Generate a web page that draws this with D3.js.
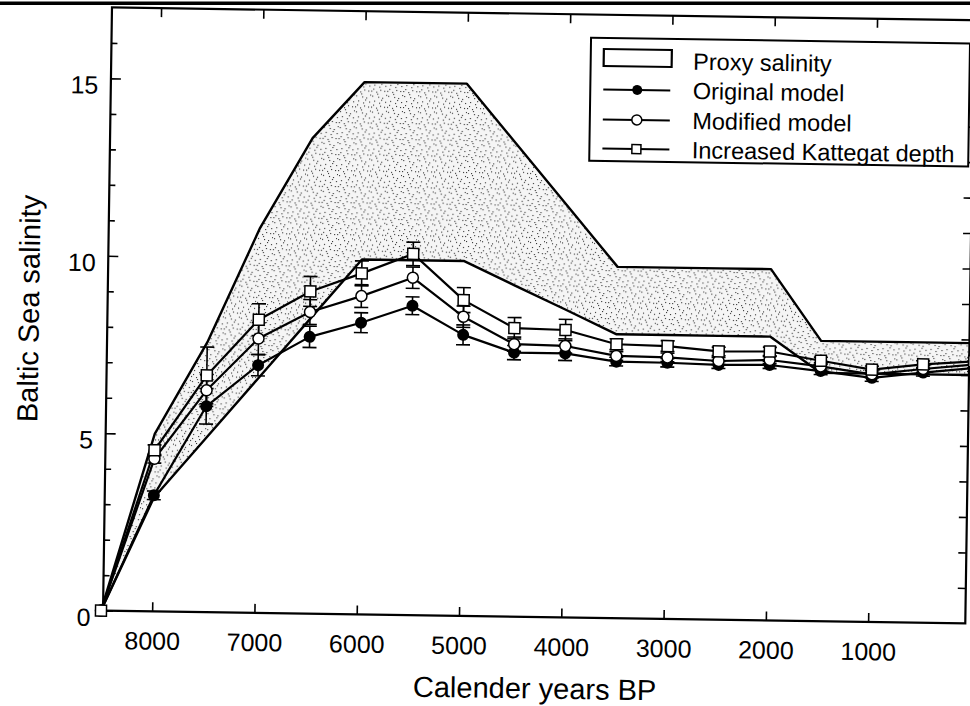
<!DOCTYPE html>
<html>
<head>
<meta charset="utf-8">
<script src="https://cdn.jsdelivr.net/npm/d3@7"></script>
<style>
  body { margin: 0; background: #fff; }
  svg { display: block; }
  text { font-family: "Liberation Sans", Arial, Helvetica, sans-serif; fill: #000; }
</style>
</head>
<body>
<svg id="chart" width="970" height="706"></svg>
<script>
// Simulated and proxy Baltic Sea salinity, years before present
const years = [8500, 8000, 7500, 7000, 6500, 6000, 5500, 5000, 4500, 4000, 3500, 3000, 2500, 2000, 1500, 1000, 500, 0];

// Proxy salinity envelope (upper and lower bound)
const proxyUpper = [0, 5.0, 7.6, 10.85, 13.4, 15.0, 15.0, 15.0, 13.3, 11.6, 9.9, 9.9, 9.9, 9.9, 7.9, 7.9, 7.9, 7.9];
const proxyLower = [0, 3.2, 4.9, 6.6, 8.3, 10.0, 10.0, 10.0, 9.33, 8.67, 8.0, 8.0, 8.0, 8.0, 7.0, 7.0, 7.0, 7.0];

// Model runs with error bar half-widths
const originalModel = [0, 3.27, 5.8, 6.98, 7.8, 8.22, 8.72, 7.92, 7.44, 7.44, 7.23, 7.22, 7.18, 7.2, 7.05, 6.88, 7.05, 7.2];
const originalErr   = [0, 0.12, 0.5, 0.3, 0.3, 0.28, 0.25, 0.28, 0.2, 0.2, 0.12, 0.12, 0.1, 0.1, 0.1, 0.1, 0.1, 0.1];
const modifiedModel = [0, 4.3, 6.25, 7.73, 8.5, 8.97, 9.51, 8.43, 7.68, 7.65, 7.39, 7.37, 7.29, 7.34, 7.18, 6.98, 7.15, 7.3];
const modifiedErr   = [0, 0.12, 0.45, 0.45, 0.35, 0.32, 0.3, 0.3, 0.2, 0.2, 0.12, 0.12, 0.1, 0.1, 0.1, 0.1, 0.1, 0.1];
const kattegatModel = [0, 4.54, 6.67, 8.26, 9.08, 9.61, 10.18, 8.9, 8.13, 8.1, 7.72, 7.69, 7.56, 7.58, 7.34, 7.11, 7.28, 7.39];
const kattegatErr   = [0, 0.15, 0.8, 0.45, 0.42, 0.35, 0.33, 0.35, 0.3, 0.3, 0.15, 0.15, 0.12, 0.12, 0.1, 0.1, 0.1, 0.1];

// Axis ticks
const xTicks = [8000, 7000, 6000, 5000, 4000, 3000, 2000, 1000];
const yTicks = [0, 5, 10, 15];
const yMinorTicks = [1, 2, 3, 4, 6, 7, 8, 9, 11, 12, 13, 14, 16];
const yAllTicks = [1, 2, 3, 4, 5, 6, 7, 8, 9, 10, 11, 12, 13, 14, 15, 16];

const legendLabels = ["Proxy salinity", "Original model", "Modified model", "Increased Kattegat depth"];
const xTitle = "Calender years BP";
const yTitle = "Baltic Sea salinity";

// Stipple texture tile (dot offsets within one tile)
const stippleDots = [[1,2],[6,0],[11,4],[3,7],[8,9],[14,8],[0,13],[5,14],[10,6],[13,13],[7,3],[2,11],[15,1],[9,12]];

const svg = d3.select("#chart");
const FONT = '"Liberation Sans", Arial, Helvetica, sans-serif';

const defs = svg.append("defs");
const pat = defs.append("pattern")
  .attr("id", "stipple")
  .attr("patternUnits", "userSpaceOnUse")
  .attr("width", 16).attr("height", 16);
pat.append("rect").attr("width", 16).attr("height", 16).attr("fill", "#f5f5f5");
pat.selectAll("rect.dot").data(stippleDots).join("rect")
  .attr("class", "dot")
  .attr("x", d => d[0]).attr("y", d => d[1])
  .attr("width", 1.1).attr("height", 1.1)
  .attr("fill", "#333");

// Page rule along the top edge
svg.append("rect").attr("x", 0).attr("y", 1.5).attr("width", 970).attr("height", 3.5).attr("fill", "#000");

// Whole figure is drawn slightly tilted
const g = svg.append("g").attr("transform", "rotate(0.85,535,310)");

const x = d3.scaleLinear().domain([8500, 0]).range([105.5, 975]);
const y = d3.scaleLinear().domain([0, 17]).range([617, 13.7]);

const frameLeft = x(8480), frameRight = x(50), frameTop = y(17), frameBottom = y(0);

// Proxy envelope
const band = d3.area()
  .x((d, i) => x(years[i]))
  .y0((d, i) => y(proxyLower[i]))
  .y1((d, i) => y(proxyUpper[i]));
g.append("path").datum(years).attr("d", band).attr("fill", "url(#stipple)").attr("stroke", "none");

const lineOf = arr => d3.line().x((d, i) => x(years[i])).y((d, i) => y(arr[i]))(years);
[proxyUpper, proxyLower].forEach(arr => {
  g.append("path").attr("d", lineOf(arr)).attr("fill", "none")
    .attr("stroke", "#000").attr("stroke-width", 2.4).attr("stroke-linejoin", "round");
});

// Frame
g.append("rect")
  .attr("x", frameLeft).attr("y", frameTop)
  .attr("width", frameRight - frameLeft).attr("height", frameBottom - frameTop)
  .attr("fill", "none").attr("stroke", "#000").attr("stroke-width", 2.2);

function styleAxis(sel, size) {
  sel.select(".domain").remove();
  sel.selectAll(".tick line").attr("stroke", "#000").attr("stroke-width", 1.6);
  sel.attr("font-family", FONT).attr("font-size", size);
  sel.selectAll(".tick text").attr("fill", "#000");
}

// Bottom axis with labels
const bottomAxis = g.append("g").attr("transform", `translate(0,${frameBottom})`)
  .call(d3.axisBottom(x).tickValues(xTicks).tickSize(-9).tickPadding(20.5).tickFormat(d3.format("d")));
styleAxis(bottomAxis, 25);

// Top axis ticks
const topAxis = g.append("g").attr("transform", `translate(0,${frameTop})`)
  .call(d3.axisTop(x).tickValues(xTicks).tickSize(-9).tickFormat(""));
styleAxis(topAxis, 25);

// Left axis with labels
const leftAxis = g.append("g").attr("transform", `translate(${frameLeft},0)`)
  .call(d3.axisLeft(y).tickValues(yTicks).tickSize(-10).tickPadding(12.5).tickFormat(d3.format("d")));
styleAxis(leftAxis, 25);
leftAxis.selectAll(".tick text").attr("dy", 15);

const leftMinor = g.append("g").attr("transform", `translate(${frameLeft},0)`)
  .call(d3.axisLeft(y).tickValues(yMinorTicks).tickSize(-6).tickFormat(""));
styleAxis(leftMinor, 25);

// Right axis ticks
const rightAxis = g.append("g").attr("transform", `translate(${frameRight},0)`)
  .call(d3.axisRight(y).tickValues(yAllTicks).tickSize(-8).tickFormat(""));
styleAxis(rightAxis, 25);

// Axis titles
g.append("text")
  .attr("x", (x(8500) + x(0)) / 2).attr("y", 698.5)
  .attr("text-anchor", "middle").attr("font-size", 29)
  .text(xTitle);
g.append("text")
  .attr("transform", "translate(39,316) rotate(-90)")
  .attr("text-anchor", "middle").attr("font-size", 29)
  .text(yTitle);

// Model series
const series = [
  { values: originalModel, err: originalErr, kind: "filled" },
  { values: modifiedModel, err: modifiedErr, kind: "open" },
  { values: kattegatModel, err: kattegatErr, kind: "square" }
];

series.forEach(s => {
  g.append("path").attr("d", lineOf(s.values)).attr("fill", "none")
    .attr("stroke", "#000").attr("stroke-width", 2.2).attr("stroke-linejoin", "round");
});

const CAP = 7;
series.forEach(s => {
  const eb = g.append("g").attr("stroke", "#000").attr("stroke-width", 1.6);
  years.forEach((yr, i) => {
    if (!s.err[i]) return;
    const cx = x(yr), top = y(s.values[i] + s.err[i]), bot = y(s.values[i] - s.err[i]);
    eb.append("line").attr("x1", cx).attr("x2", cx).attr("y1", top).attr("y2", bot);
    eb.append("line").attr("x1", cx - CAP).attr("x2", cx + CAP).attr("y1", top).attr("y2", top);
    eb.append("line").attr("x1", cx - CAP).attr("x2", cx + CAP).attr("y1", bot).attr("y2", bot);
  });
});

function drawMarker(sel, kind, cx, cy, size) {
  if (kind === "filled") {
    sel.append("circle").attr("cx", cx).attr("cy", cy).attr("r", size / 2).attr("fill", "#000");
  } else if (kind === "open") {
    sel.append("circle").attr("cx", cx).attr("cy", cy).attr("r", size / 2)
      .attr("fill", "#fff").attr("stroke", "#000").attr("stroke-width", 1.5);
  } else {
    sel.append("rect").attr("x", cx - size / 2).attr("y", cy - size / 2)
      .attr("width", size).attr("height", size)
      .attr("fill", "#fff").attr("stroke", "#000").attr("stroke-width", 1.5);
  }
}

series.forEach(s => {
  const mg = g.append("g");
  years.forEach((yr, i) => drawMarker(mg, s.kind, x(yr), y(s.values[i]), s.kind === "filled" ? 12 : 11));
});

// Legend
const lg = g.append("g");
lg.append("rect").attr("x", 587).attr("y", 37).attr("width", 379).attr("height", 123)
  .attr("fill", "#fff").attr("stroke", "#000").attr("stroke-width", 2);
const rowY = [59, 88.4, 118.4, 147.6];
lg.append("rect").attr("x", 600).attr("y", 48).attr("width", 68).attr("height", 17)
  .attr("fill", "#fff").attr("stroke", "#000").attr("stroke-width", 2.2);
["filled", "open", "square"].forEach((kind, k) => {
  const ry = rowY[k + 1];
  lg.append("line").attr("x1", 600).attr("x2", 667).attr("y1", ry).attr("y2", ry)
    .attr("stroke", "#000").attr("stroke-width", 2);
  drawMarker(lg, kind, 634, ry, kind === "square" ? 9 : 10);
});
lg.selectAll("text.leg").data(legendLabels).join("text")
  .attr("class", "leg")
  .attr("x", 689.5).attr("y", (d, i) => rowY[i] + 8.4)
  .attr("font-size", 23.5)
  .text(d => d);
</script>
</body>
</html>
